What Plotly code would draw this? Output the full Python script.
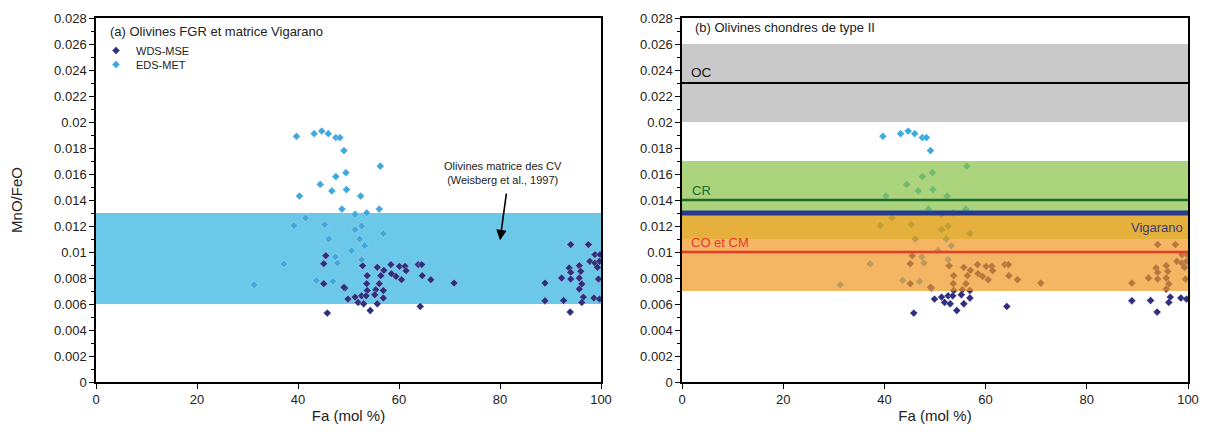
import plotly.graph_objects as go

# ---------------- data ----------------
wds_fa = [45.5, 45.1, 45.1, 49.3, 49.9, 51.3, 51.9, 45.8,
          49.1, 52.8, 55.7, 57.0, 58.4, 60.1, 61.2, 61.4, 63.8, 64.5, 64.6, 66.3, 70.9,
          58.5, 59.4, 60.5, 56.4, 53.7, 53.6, 56.1, 53.7, 55.4, 56.9,
          52.6, 53.5, 55.2, 56.9, 53.0, 55.7, 54.3, 64.2,
          94.0, 97.5, 98.8, 99.8, 97.8, 98.8, 99.7, 99.3, 93.7, 95.7, 94.0, 96.0,
          92.2, 94.0, 95.7, 99.5, 96.2, 88.9, 95.7, 96.5, 98.6, 99.7, 88.9, 92.6,
          96.2, 93.9]
wds_ratio = [0.00972, 0.0091, 0.00756, 0.00723, 0.00638, 0.00653, 0.00612, 0.0053,
             0.00728, 0.00895, 0.00882, 0.00859, 0.00903, 0.0089, 0.0089, 0.00856, 0.00903, 0.00903, 0.00818, 0.00787, 0.00761,
             0.00833, 0.00812, 0.00787, 0.00818, 0.00818, 0.00756, 0.00756, 0.00704, 0.0071, 0.00704,
             0.00663, 0.00663, 0.00671, 0.00646, 0.00602, 0.00602, 0.0055, 0.00581,
             0.01057, 0.01057, 0.0098, 0.0098, 0.00928, 0.00915, 0.00928, 0.00882, 0.00877, 0.00895, 0.00843, 0.00851,
             0.0080, 0.00792, 0.0080, 0.00792, 0.00754, 0.00761, 0.00715, 0.00653, 0.00646, 0.00638, 0.00625, 0.00627,
             0.00612, 0.00538]

eds_fa = [39.7, 43.2, 44.7, 46.0, 47.5, 48.3, 49.1, 56.3, 49.5, 47.5, 44.4, 46.7, 49.6,
          40.3, 52.4, 48.7, 51.3, 53.6, 56.1,
          41.5, 39.2, 45.3, 46.1, 51.3, 50.6, 47.4, 47.8, 37.2, 43.6, 46.9, 31.3,
          52.6, 56.9, 52.2, 53.2, 52.6]
eds_ratio = [0.0189, 0.0191, 0.0193, 0.0191, 0.0188, 0.0188, 0.0178, 0.0166, 0.0161, 0.0158, 0.0152, 0.0147, 0.0148,
             0.0143, 0.0143, 0.0133, 0.0129, 0.0130, 0.0133,
             0.01262, 0.01203, 0.01211, 0.0110, 0.01172, 0.0101, 0.00962, 0.00915, 0.00908, 0.00781, 0.00774, 0.00748,
             0.0120, 0.01142, 0.0110, 0.01049, 0.00941]

y_tickvals = [0, 0.002, 0.004, 0.006, 0.008, 0.01, 0.012, 0.014, 0.016, 0.018, 0.02,
              0.022, 0.024, 0.026, 0.028]
y_ticktext = ["0", "0.002", "0.004", "0.006", "0.008", "0.01", "0.012", "0.014", "0.016",
              "0.018", "0.02", "0.022", "0.024", "0.026", "0.028"]
x_tickvals = [0, 20, 40, 60, 80, 100]

# reference ranges (MnO/FeO)
cv_matrix = (0.006, 0.013)
oc_band = (0.020, 0.026); oc_line = 0.023
cr_band = (0.013, 0.017); cr_line = 0.014
gold_band = (0.011, 0.013)
co_band = (0.007, 0.011); co_line = 0.010
vig_line = 0.013

NAVY = "#2f2e7f"
SKY = "#3fa8dc"
FONT = "Liberation Sans, Arial, sans-serif"

W, H, OFF = 1208, 437, 8  # page body margin offset


def px_x(p):
    return (p - OFF) / W


def px_y(p):
    return 1 - (p - OFF) / H


fig = go.Figure()

for i, (xa, ya) in enumerate([("x", "y"), ("x2", "y2")]):
    fig.add_trace(go.Scatter(x=wds_fa, y=wds_ratio, mode="markers", name="WDS-MSE",
                             xaxis=xa, yaxis=ya, showlegend=(i == 0), legend="legend",
                             marker=dict(symbol="diamond", size=6, color=NAVY,
                                         line=dict(width=0.5, color="rgba(255,255,255,0.6)"))))
    fig.add_trace(go.Scatter(x=eds_fa, y=eds_ratio, mode="markers", name="EDS-MET",
                             xaxis=xa, yaxis=ya, showlegend=(i == 0), legend="legend2",
                             marker=dict(symbol="diamond", size=6, color=SKY,
                                         line=dict(width=0.5, color="rgba(255,255,255,0.6)"))))

shapes = []
shapes.append(dict(type="rect", xref="x", yref="y", x0=0, x1=100, y0=cv_matrix[0], y1=cv_matrix[1],
                   fillcolor="#6cc8e8", line=dict(width=0), layer="below"))
shapes.append(dict(type="rect", xref="x2", yref="y2", x0=0, x1=100, y0=oc_band[0], y1=oc_band[1],
                   fillcolor="#c9c9c9", line=dict(width=0), layer="below"))
shapes.append(dict(type="rect", xref="x2", yref="y2", x0=0, x1=100, y0=cr_band[0], y1=cr_band[1],
                   fillcolor="rgba(136,194,69,0.7)", line=dict(width=0), layer="above"))
shapes.append(dict(type="rect", xref="x2", yref="y2", x0=0, x1=100, y0=gold_band[0], y1=gold_band[1],
                   fillcolor="rgba(224,156,11,0.8)", line=dict(width=0), layer="above"))
shapes.append(dict(type="rect", xref="x2", yref="y2", x0=0, x1=100, y0=co_band[0], y1=co_band[1],
                   fillcolor="rgba(241,151,34,0.7)", line=dict(width=0), layer="above"))
shapes.append(dict(type="line", xref="x2", yref="y2", x0=0, x1=100, y0=oc_line, y1=oc_line,
                   line=dict(color="black", width=2), layer="above"))
shapes.append(dict(type="line", xref="x2", yref="y2", x0=0, x1=100, y0=cr_line, y1=cr_line,
                   line=dict(color="#1c6a2c", width=2.5), layer="above"))
shapes.append(dict(type="line", xref="x2", yref="y2", x0=0, x1=100, y0=co_line, y1=co_line,
                   line=dict(color="#e8392b", width=2.5), layer="above"))
shapes.append(dict(type="line", xref="x2", yref="y2", x0=0, x1=100, y0=vig_line, y1=vig_line,
                   line=dict(color="#283a8e", width=5), layer="above"))

annotations = [
    dict(text="(a) Olivines FGR et matrice Vigarano", xref="x", yref="y", x=2.3, y=0.0270,
         xanchor="left", yanchor="middle", showarrow=False, font=dict(size=13, color="#222")),
    dict(text="(b) Olivines chondres de type II", xref="x2", yref="y2", x=2.2, y=0.0273,
         xanchor="left", yanchor="middle", showarrow=False, font=dict(size=13, color="#222")),
    dict(text="Olivines matrice des CV<br>(Weisberg et al., 1997)", xref="x", yref="y", x=80.5, y=0.0161,
         xanchor="center", yanchor="middle", showarrow=False, font=dict(size=11, color="#222")),
    dict(text="", xref="x", yref="y", x=80.0, y=0.0109, ax=81.3, ay=0.0146, axref="x", ayref="y",
         showarrow=True, arrowhead=2, arrowsize=1.3, arrowwidth=1.6, arrowcolor="black"),
    dict(text="OC", xref="x2", yref="y2", x=1.3, y=0.0238, xanchor="left", yanchor="middle",
         showarrow=False, font=dict(size=13.5, color="#111")),
    dict(text="CR", xref="x2", yref="y2", x=1.5, y=0.0147, xanchor="left", yanchor="middle",
         showarrow=False, font=dict(size=13, color="#1c6a2c")),
    dict(text="Vigarano", xref="x2", yref="y2", x=99.5, y=0.0119, xanchor="right", yanchor="middle",
         showarrow=False, font=dict(size=13, color="#3a3f78")),
    dict(text="CO et CM", xref="x2", yref="y2", x=1.3, y=0.0107, xanchor="left", yanchor="middle",
         showarrow=False, font=dict(size=13, color="#e8392b")),
]

axis_common = dict(showline=True, linecolor="black", linewidth=1.5, mirror=True, automargin=False,
                   showgrid=False, zeroline=False, ticks="outside", ticklen=5, tickwidth=1.2,
                   tickcolor="black", tickfont=dict(size=13, color="#222"))

legend_common = dict(xanchor="left", yanchor="top", bgcolor="rgba(0,0,0,0)",
                     font=dict(size=11), tracegroupgap=0, itemwidth=30)

ydom = [px_y(382), px_y(18)]

fig.update_layout(
    width=W, height=H,
    margin=dict(l=0, r=0, t=0, b=0, autoexpand=False),
    paper_bgcolor="white", plot_bgcolor="white",
    font=dict(family=FONT, color="#222"),
    shapes=shapes, annotations=annotations,
    showlegend=True,
    legend=dict(x=px_x(96), y=px_y(36), **legend_common),
    legend2=dict(x=px_x(96), y=px_y(50), **legend_common),
    xaxis=dict(domain=[px_x(96), px_x(601)], range=[0, 100], tickvals=x_tickvals,
               title=dict(text="Fa (mol %)", font=dict(size=15), standoff=4), **axis_common),
    yaxis=dict(domain=ydom, range=[0, 0.028], tickvals=y_tickvals, ticktext=y_ticktext,
               minor=dict(dtick=0.001, ticks="outside", ticklen=3, tickcolor="black"),
               title=dict(text="MnO/FeO", font=dict(size=15), standoff=36), **axis_common),
    xaxis2=dict(domain=[px_x(682), px_x(1188)], range=[0, 100], tickvals=x_tickvals, anchor="y2",
                title=dict(text="Fa (mol %)", font=dict(size=15), standoff=4), **axis_common),
    yaxis2=dict(domain=ydom, range=[0, 0.028], tickvals=y_tickvals, ticktext=y_ticktext,
                anchor="x2",
                minor=dict(dtick=0.001, ticks="outside", ticklen=3, tickcolor="black"),
                **axis_common),
)

fig.write_html("out.html")
